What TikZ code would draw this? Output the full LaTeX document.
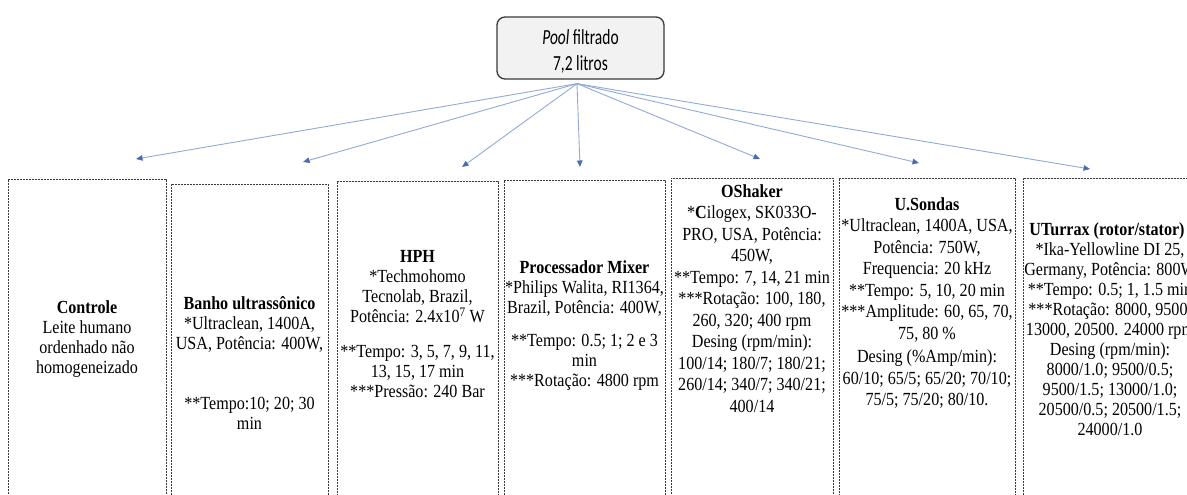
\documentclass[tikz,border=0pt]{standalone}
\usepackage{fontspec}
\setmainfont[FakeStretch=0.87]{Liberation Serif}
\newfontfamily\calib[FakeStretch=0.72]{Carlito}
\usetikzlibrary{arrows.meta}
\definecolor{arrowline}{HTML}{93AAD6}
\definecolor{arrowhead}{HTML}{4A6CB0}
\definecolor{frame}{HTML}{3A3A3A}
\definecolor{poolfill}{HTML}{F2F2F2}

\begin{document}
\begin{tikzpicture}[x=1pt,y=-1pt,
  poolbox/.style={draw=frame, line width=1.3pt, fill=poolfill, rounded corners=8pt,
    minimum width=167pt, minimum height=62pt, inner sep=0pt},
  pooltext/.style={align=center, inner sep=0pt,
    font=\calib\fontsize{21.5}{26}\selectfont},
  methodbox/.style={draw=frame, line width=0.9pt, dash pattern=on 2pt off 1pt,
    anchor=north west, minimum height=400pt, inner sep=0pt},
  methodtext/.style={anchor=north, align=center, inner sep=0pt,
    font=\fontsize{18.5}{20}\selectfont},
  widetext/.style={methodtext, font=\fontsize{18.5}{21.5}\selectfont},
  feed/.style={draw=arrowline, line width=0.9pt,
    -{Triangle[length=6.5pt,width=5.5pt,color=arrowhead]}},
]
\clip (0,0) rectangle (1187,495);
\fill[white] (0,0) rectangle (1187,495);

% source sample
\node[poolbox] (pool) at (580.5,48) {};
\node[pooltext] (poolt) at (580.5,51) {\textit{Pool} filtrado\\7,2 litros};

% treatment columns
\node[methodbox, minimum width=158pt] (b1) at (8,179) {};
\node[methodbox, minimum width=157pt] (b2) at (171,184) {};
\node[methodbox, minimum width=161pt] (b3) at (337,181) {};
\node[methodbox, minimum width=161pt] (b4) at (504,180) {};
\node[methodbox, minimum width=162pt] (b5) at (671,178) {};
\node[methodbox, minimum width=176pt] (b6) at (839,178) {};
\node[methodbox, minimum width=178pt] (b7) at (1023,178) {};

\node[methodtext] (l1) at (87,300) {\textbf{Controle}\\Leite humano\\ordenhado não\\homogeneizado};
\node[methodtext] (l2) at (249.5,296) {\textbf{Banho ultrassônico}\\{}*Ultraclean, 1400A,\\USA, Potência: 400W,\\[40pt]{}**Tempo:10; 20; 30\\min};
\node[methodtext] (l3) at (417.5,250) {\textbf{HPH}\\{}*Techmohomo\\Tecnolab, Brazil,\\Potência: 2.4x10\textsuperscript{7} W\\[15pt]{}**Tempo: 3, 5, 7, 9, 11,\\13, 15, 17 min\\{}***Pressão: 240 Bar};
\node[methodtext] (l4) at (584.5,260.5) {\textbf{Processador Mixer}\\{}*Philips Walita, RI1364,\\Brazil, Potência: 400W,\\[13pt]{}**Tempo: 0.5; 1; 2 e 3\\min\\{}***Rotação: 4800 rpm};
\node[widetext] (l5) at (752,184) {\textbf{OShaker}\\{}*\textbf{C}ilogex, SK033O-\\PRO, USA, Potência:\\450W,\\{}**Tempo: 7, 14, 21 min\\{}***Rotação: 100, 180,\\260, 320; 400 rpm\\Desing (rpm/min):\\100/14; 180/7; 180/21;\\260/14; 340/7; 340/21;\\400/14};
\node[widetext] (l6) at (927,197) {\textbf{U.Sondas}\\{}*Ultraclean, 1400A, USA,\\Potência: 750W,\\Frequencia: 20 kHz\\{}**Tempo: 5, 10, 20 min\\{}***Amplitude: 60, 65, 70,\\75, 80 \%\\[2pt]Desing (\%Amp/min):\\60/10; 65/5; 65/20; 70/10;\\75/5; 75/20; 80/10.};
\node[methodtext] (l7) at (1110,222) {\textbf{UTurrax (rotor/stator)}\kern6pt\\{}*Ika-Yellowline DI 25,\\Germany, Potência: 800W\\{}**Tempo: 0.5; 1, 1.5 min\\{}***Rotação: 8000, 9500,\\13000, 20500. 24000 rpm\\Desing (rpm/min):\\8000/1.0; 9500/0.5;\\9500/1.5; 13000/1.0;\\20500/0.5; 20500/1.5;\\24000/1.0};

% distribution arrows
\coordinate (hub) at ([shift={(-3.5,4)}]pool.south);
\coordinate (t1) at (136,159);
\coordinate (t2) at (303,162);
\coordinate (t3) at (462,167);
\coordinate (t4) at (580,167);
\coordinate (t5) at (760,159);
\coordinate (t6) at (919,163);
\coordinate (t7) at (1090,169);
\foreach \t in {t1,t2,t3,t4,t5,t6,t7}
  \draw[feed] (hub) -- (\t);
\end{tikzpicture}
\end{document}
